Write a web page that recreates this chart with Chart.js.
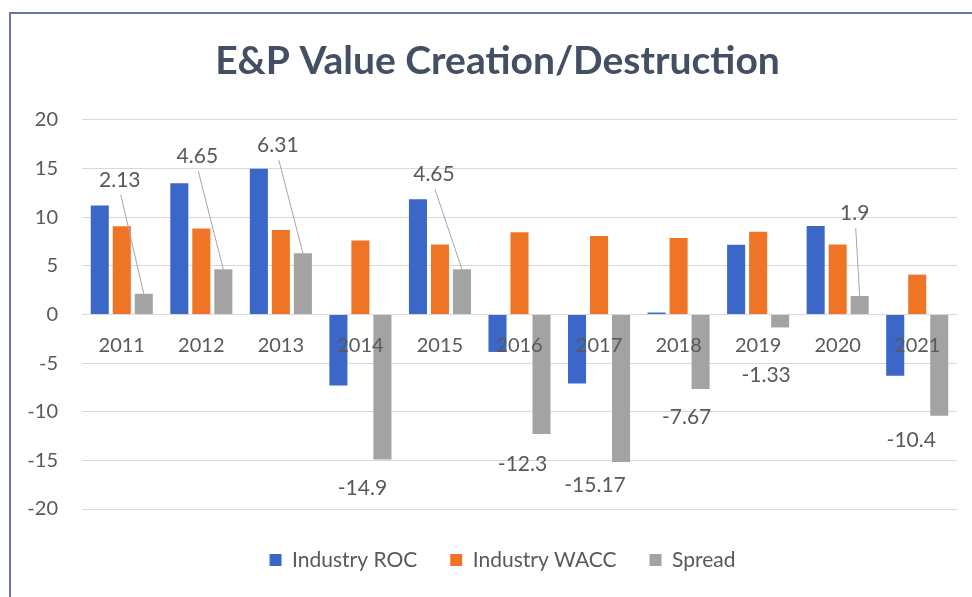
<!DOCTYPE html>
<html>
<head>
<meta charset="utf-8">
<script src="https://cdn.jsdelivr.net/npm/chart.js@4.4.1/dist/chart.umd.min.js"></script>
<style>
  html, body { margin: 0; padding: 0; background: #ffffff; }
  #wrap { position: relative; width: 972px; height: 597px; }
  #frame { position: absolute; left: 9px; top: 12px; width: 963px; height: 585px;
           border-top: 2px solid #6677a6; border-left: 2px solid #6677a6; box-sizing: border-box; pointer-events: none; }
</style>
</head>
<body>
<div id="wrap">
  <canvas id="c" width="972" height="597"></canvas>
  <div id="frame"></div>
</div>
<script>
const categories = ['2011', '2012', '2013', '2014', '2015', '2016', '2017', '2018', '2019', '2020', '2021'];
const industryROC = [11.2, 13.5, 15.0, -7.3, 11.85, -3.85, -7.1, 0.2, 7.17, 9.1, -6.3];
const industryWACC = [9.07, 8.85, 8.69, 7.6, 7.2, 8.45, 8.07, 7.87, 8.5, 7.2, 4.1];
const spread = [2.13, 4.65, 6.31, -14.9, 4.65, -12.3, -15.17, -7.67, -1.33, 1.9, -10.4];
const yTickValues = [-20, -15, -10, -5, 0, 5, 10, 15, 20];

const FONT = 'Lato, "Open Sans", sans-serif';
const TEXT = '#595959';

// label placement (pixel offsets of each Spread data label from its bar end)
const spreadLabelOffsets = [[-24, -114], [-26, -113], [-25, -108], [-20, 29], [-28, -95],
  [-19, 30], [-26, 23], [-14, 28], [-14, 48], [-5, -83], [-28, 25]];

const spreadLabels = {
  id: 'spreadLabels',
  afterLayout(chart) {
    // the reference places its title and legend slightly right of the canvas centre
    chart.titleBlock.right += 28;
    chart.legend.left += 38;
  },
  afterDatasetsDraw(chart, args, opts) {
    const meta = chart.getDatasetMeta(2);
    const ctx = chart.ctx;
    ctx.save();
    ctx.font = '21px ' + FONT;
    ctx.fillStyle = TEXT;
    ctx.textAlign = 'center';
    ctx.textBaseline = 'middle';
    meta.data.forEach((bar, i) => {
      const v = spread[i];
      const off = opts.offsets[i];
      const lx = bar.x + off[0];
      const ly = bar.y + off[1];
      if (v > 0) {
        ctx.beginPath();
        ctx.strokeStyle = '#a6a6a6';
        ctx.lineWidth = 1;
        ctx.moveTo(lx + 1, ly + 15);
        ctx.lineTo(bar.x, bar.y);
        ctx.stroke();
      }
      ctx.fillText(String(v), lx, ly);
    });
    ctx.restore();
  }
};

new Chart(document.getElementById('c'), {
  type: 'bar',
  data: {
    labels: categories,
    datasets: [
      { label: 'Industry ROC', data: industryROC, backgroundColor: '#3b67c9' },
      { label: 'Industry WACC', data: industryWACC, backgroundColor: '#ef7426' },
      { label: 'Spread', data: spread, backgroundColor: '#a3a3a3' }
    ]
  },
  options: {
    responsive: false,
    animation: false,
    devicePixelRatio: 1,
    datasets: { bar: { categoryPercentage: 0.83, barPercentage: 0.82 } },
    layout: { padding: { left: 10, right: 15, top: 0, bottom: 16.5 } },
    scales: {
      x: {
        position: { y: 0 },
        grid: { display: false, drawTicks: false },
        border: { display: false },
        ticks: { z: 1, color: TEXT, font: { family: FONT, size: 20 }, padding: 19, maxRotation: 0, autoSkip: false }
      },
      y: {
        min: -20, max: 20,
        afterFit(scale) { scale.width = 72; },
        afterBuildTicks(scale) { scale.ticks = yTickValues.map(v => ({ value: v })); },
        grid: { color: '#d9d9d9', lineWidth: 1, drawTicks: false },
        border: { display: false },
        ticks: { color: TEXT, font: { family: FONT, size: 20 }, padding: 24 }
      }
    },
    plugins: {
      title: {
        display: true,
        text: 'E&P Value Creation/Destruction',
        color: '#434f63',
        font: { family: FONT, size: 39, weight: 'bold', lineHeight: 1.2 },
        padding: { top: 38.4, bottom: 34.8 }
      },
      legend: {
        position: 'bottom',
        title: { display: true, text: '', font: { size: 5, lineHeight: 1.2 }, padding: { top: 1.5, bottom: 0 } },
        labels: {
          color: TEXT,
          font: { family: FONT, size: 21 },
          boxWidth: 12, boxHeight: 12,
          padding: 33
        }
      },
      tooltip: { enabled: false },
      spreadLabels: { offsets: spreadLabelOffsets }
    }
  },
  plugins: [spreadLabels]
});
</script>
</body>
</html>
